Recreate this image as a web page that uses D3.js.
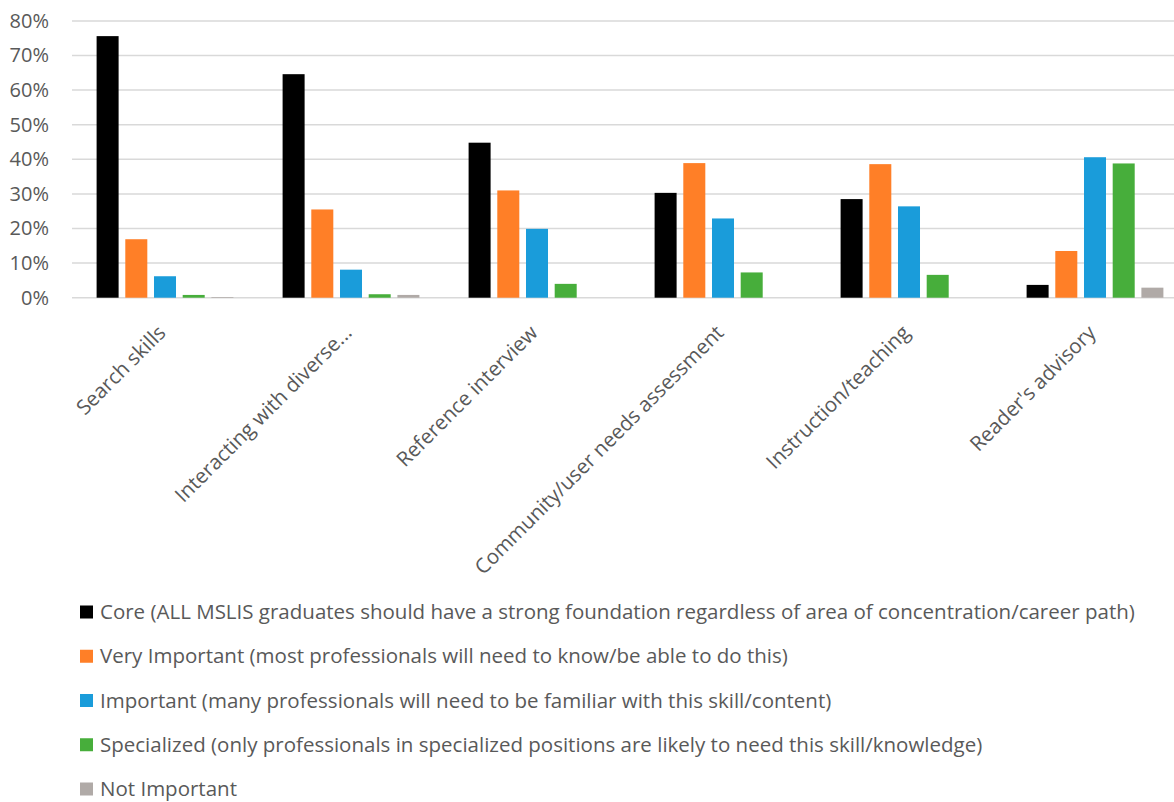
<!DOCTYPE html>
<html>
<head>
<meta charset="utf-8">
<script src="https://cdn.jsdelivr.net/npm/d3@7"></script>
<style>
  html, body { margin: 0; padding: 0; background: #fff; }
  svg { display: block; }
  text { font-family: "Open Sans", Lato, sans-serif; fill: #595959; }
</style>
</head>
<body>
<svg id="chart" width="1174" height="802"></svg>
<script>
// Skill categories (x axis)
const categories = [
  "Search skills",
  "Interacting with diverse...",
  "Reference interview",
  "Community/user needs assessment",
  "Instruction/teaching",
  "Reader's advisory"
];

// Share of respondents per rating, in percent
const core          = [75.6, 64.6, 44.8, 30.3, 28.5, 3.7];
const veryImportant = [16.9, 25.5, 31.0, 38.9, 38.6, 13.5];
const important     = [6.2, 8.1, 19.9, 22.9, 26.4, 40.6];
const specialized   = [0.8, 1.0, 4.0, 7.3, 6.6, 38.8];
const notImportant  = [0.2, 0.8, 0, 0, 0, 2.9];

const seriesNames = [
  "Core (ALL MSLIS graduates should have a strong foundation regardless of area of concentration/career path)",
  "Very Important (most professionals will need to know/be able to do this)",
  "Important (many professionals will need to be familiar with this skill/content)",
  "Specialized (only professionals in specialized positions are likely to need this skill/knowledge)",
  "Not Important"
];
const seriesValues = [core, veryImportant, important, specialized, notImportant];
const seriesColors = ["#000000", "#ff7f27", "#1a9cda", "#47ae3b", "#b0aaa7"];

const yTicks = [0, 10, 20, 30, 40, 50, 60, 70, 80];

const svg = d3.select("#chart");

const x0 = d3.scaleBand().domain(categories).range([72, 1188]);
const x1 = d3.scaleBand()
  .domain(d3.range(seriesNames.length))
  .range([24.6, x0.bandwidth() - 24.6])
  .paddingInner(0.233);
const y = d3.scaleLinear().domain([0, 80]).range([297.7, 20.9]);

// Horizontal gridlines
svg.append("g")
  .selectAll("line")
  .data(yTicks)
  .join("line")
  .attr("x1", 72)
  .attr("x2", 1188)
  .attr("y1", d => y(d))
  .attr("y2", d => y(d))
  .attr("stroke", "#d9d9d9")
  .attr("stroke-width", 1.5);

// Y axis labels
const yAxis = svg.append("g")
  .attr("transform", "translate(49,0)")
  .call(d3.axisLeft(y).tickValues(yTicks).tickFormat(d => d + "%").tickSize(0).tickPadding(0));
yAxis.select(".domain").remove();
yAxis.selectAll("text")
  .style("font-family", "'Open Sans', Lato, sans-serif")
  .style("font-size", "20px")
  .attr("fill", "#595959");

// Bars
const groups = svg.append("g")
  .selectAll("g")
  .data(categories)
  .join("g")
  .attr("transform", d => `translate(${x0(d)},0)`);

groups.selectAll("rect")
  .data((c, i) => seriesValues.map((vals, s) => ({ s, v: vals[i] })))
  .join("rect")
  .attr("x", d => x1(d.s))
  .attr("width", x1.bandwidth())
  .attr("y", d => y(d.v))
  .attr("height", d => y(0) - y(d.v))
  .attr("fill", d => seriesColors[d.s]);

// Rotated category labels
svg.append("g")
  .selectAll("text")
  .data(categories)
  .join("text")
  .attr("transform", d => `translate(${x0(d) + x0.bandwidth() / 2 + 2},334) rotate(-45)`)
  .attr("text-anchor", "end")
  .style("font-size", "20.5px")
  .text(d => d);

// Legend
const legend = svg.append("g")
  .selectAll("g")
  .data(seriesNames)
  .join("g")
  .attr("transform", (d, i) => `translate(80,${612 + i * 44.25})`);

legend.append("rect")
  .attr("x", 0)
  .attr("y", -6.5)
  .attr("width", 13)
  .attr("height", 13)
  .attr("fill", (d, i) => seriesColors[i]);

legend.append("text")
  .attr("x", 20)
  .attr("dy", "0.35em")
  .style("font-size", "20.5px")
  .text(d => d);
</script>
</body>
</html>
